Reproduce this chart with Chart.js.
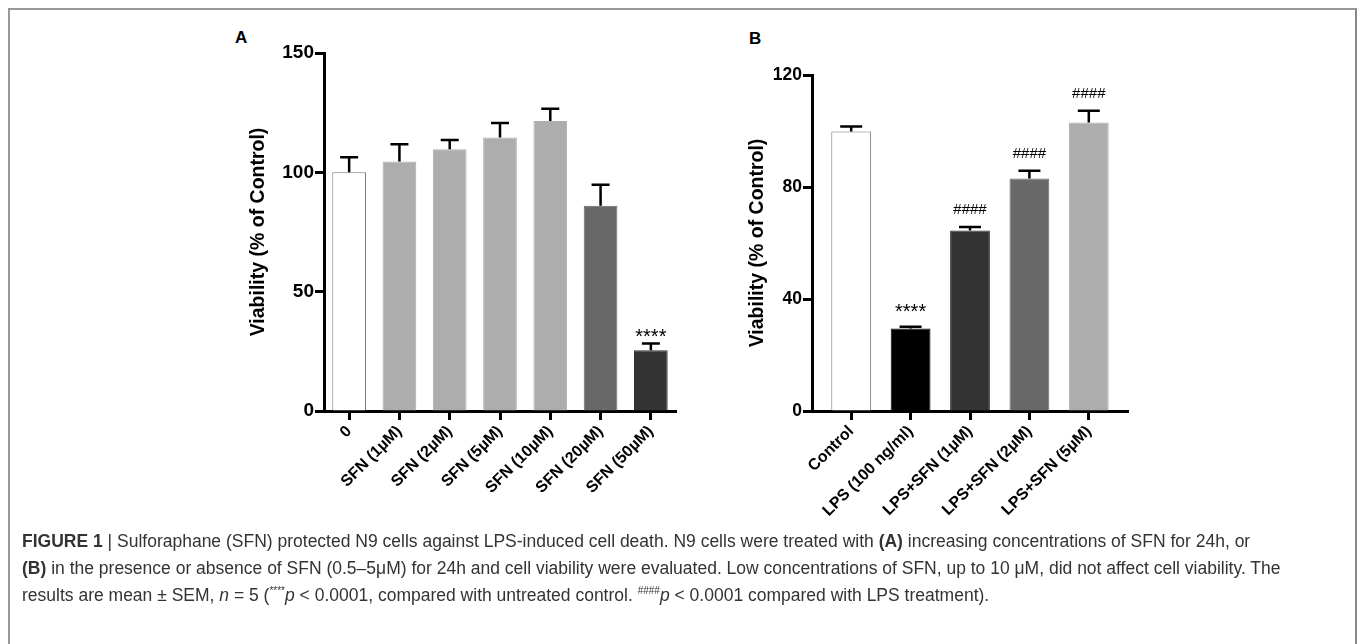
<!DOCTYPE html>
<html>
<head>
<meta charset="utf-8">
<script src="https://cdn.jsdelivr.net/npm/chart.js@4/dist/chart.umd.min.js"></script>
<style>
  body { margin: 0; background: #fff; width: 1357px; height: 644px; overflow: hidden; position: relative; font-family: "Liberation Sans", Arial, sans-serif; }
  #frame { position: absolute; left: 8px; top: 8px; width: 1345px; height: 660px; border: 2px solid #999; border-right-color: #888; }
  .panel { position: absolute; font: bold 17px "Liberation Sans", Arial, sans-serif; color: #000; }
  canvas { position: absolute; }
  #cap { position: absolute; left: 22px; top: 528px; font-size: 17.5px; line-height: 27px; color: #333; white-space: nowrap; }
  #cap sup { font-size: 10px; line-height: 0; vertical-align: 7px; }
</style>
</head>
<body>
<div id="frame"></div>
<div class="panel" style="left:235px; top:28px;">A</div>
<div class="panel" style="left:749px; top:29px;">B</div>
<canvas id="chartA" width="470" height="500" style="left:230px; top:30px; width:470px; height:500px;"></canvas>
<canvas id="chartB" width="460" height="500" style="left:700px; top:30px; width:460px; height:500px;"></canvas>
<div id="cap"><b>FIGURE 1</b> | Sulforaphane (SFN) protected N9 cells against LPS-induced cell death. N9 cells were treated with <b>(A)</b> increasing concentrations of SFN for 24h, or<br><b>(B)</b> in the presence or absence of SFN (0.5–5μM) for 24h and cell viability were evaluated. Low concentrations of SFN, up to 10 μM, did not affect cell viability. The<br>results are mean ± SEM, <i>n</i> = 5 (<sup>****</sup><i>p</i> &lt; 0.0001, compared with untreated control. <sup>####</sup><i>p</i> &lt; 0.0001 compared with LPS treatment).</div>
<script>
// panel A
const labelsA = ["0", "SFN (1µM)", "SFN (2µM)", "SFN (5µM)", "SFN (10µM)", "SFN (20µM)", "SFN (50µM)"];
const meanA = [100, 104.5, 109.7, 114.6, 121.5, 86, 25.5];
const semA = [6.3, 7.3, 3.8, 6.1, 5.1, 8.8, 2.8];
const marksA = ["", "", "", "", "", "", "****"];
const colorsA = ["#ffffff", "#adadad", "#adadad", "#adadad", "#adadad", "#686868", "#333333"];
const ticksA = [0, 50, 100, 150];

// panel B
const labelsB = ["Control", "LPS (100 ng/ml)", "LPS+SFN (1µM)", "LPS+SFN (2µM)", "LPS+SFN (5µM)"];
const meanB = [99.8, 29.5, 64.5, 83, 103];
const semB = [1.8, 0.6, 1.2, 2.8, 4.2];
const marksB = ["", "****", "####", "####", "####"];
const colorsB = ["#ffffff", "#000000", "#333333", "#686868", "#adadad"];
const ticksB = [0, 40, 80, 120];

const yTitle = "Viability (% of Control)";
const fontFam = "'Liberation Sans', Arial, sans-serif";

const errorBars = {
  id: 'errorBars',
  afterDatasetsDraw(chart, args, o) {
    const { ctx, scales: { x, y } } = chart;
    const ds = chart.data.datasets[0];
    ctx.save();
    ctx.strokeStyle = '#000';
    ctx.lineWidth = 2.5;
    ds.data.forEach((pt, i) => {
      const px = x.getPixelForValue(pt.x);
      const top = y.getPixelForValue(pt.y);
      const end = y.getPixelForValue(pt.y + o.errors[i]);
      ctx.beginPath();
      ctx.moveTo(px, top);
      ctx.lineTo(px, end);
      ctx.moveTo(px - o.cap, end);
      ctx.lineTo(px + o.cap, end);
      ctx.stroke();
      const m = o.marks[i];
      if (m) {
        ctx.fillStyle = '#000';
        ctx.textAlign = 'center';
        ctx.textBaseline = 'alphabetic';
        if (m[0] === '*') {
          // asterisks sit high in the em box
          ctx.font = '20px ' + fontFam;
          ctx.fillText(m, px, end - o.starGap + 8.5);
        } else {
          ctx.font = '15px ' + fontFam;
          ctx.fillText(m, px, end - 13);
        }
      }
    });
    ctx.restore();
  }
};

function makeChart(id, labels, means, sems, colors, marks, yTicks, cfg) {
  const step = yTicks[1] - yTicks[0];
  return new Chart(document.getElementById(id), {
    type: 'bar',
    data: {
      datasets: [{
        data: means.map((v, i) => ({ x: i, y: v })),
        backgroundColor: colors,
        borderColor: colors.map(c => c === '#ffffff' ? '#777' : c),
        borderWidth: 1,
        barPercentage: 0.67,
        categoryPercentage: 1
      }]
    },
    options: {
      responsive: false,
      animation: false,
      layout: { padding: { top: cfg.top, right: cfg.right, left: 0, bottom: 0 } },
      plugins: {
        legend: { display: false },
        tooltip: { enabled: false },
        errorBars: { errors: sems, marks: marks, cap: cfg.cap, starGap: cfg.starGap }
      },
      scales: {
        x: {
          type: 'linear',
          offset: false,
          min: -cfg.pad,
          max: labels.length - 1 + cfg.pad,
          afterBuildTicks: s => { s.ticks = labels.map((_, i) => ({ value: i })); },
          afterFit: s => { s.height = cfg.xh; },
          ticks: {
            autoSkip: false, minRotation: 45, maxRotation: 45, padding: 2,
            color: '#000', font: { family: fontFam, size: 16, weight: 'bold' },
            callback: v => labels[v]
          },
          grid: { offset: false, drawOnChartArea: false, tickLength: 9, tickWidth: 3, tickColor: '#000' },
          border: { color: '#000', width: 3 }
        },
        y: {
          min: yTicks[0],
          max: yTicks[yTicks.length - 1],
          afterFit: s => { s.width = cfg.yw; },
          ticks: {
            stepSize: step, padding: 1, color: '#000',
            font: { family: fontFam, size: cfg.tickSize, weight: 'bold' }
          },
          grid: { drawOnChartArea: false, tickLength: 9, tickWidth: 3, tickColor: '#000' },
          border: { color: '#000', width: 3 },
          title: {
            display: true, text: yTitle, color: '#000',
            font: { family: fontFam, size: 19.5, weight: 'bold' },
            padding: { top: cfg.tpad, bottom: 0 }
          }
        }
      }
    },
    plugins: [errorBars]
  });
}

makeChart('chartA', labelsA, meanA, semA, colorsA, marksA, ticksA,
  { top: 23, right: 24, xh: 119, yw: 94, pad: 0.5, cap: 9, tpad: 16.5, tickSize: 19, starGap: 9 });
makeChart('chartB', labelsB, meanB, semB, colorsB, marksB, ticksB,
  { top: 45, right: 32, xh: 119, yw: 112, pad: 0.66, cap: 11, tpad: 45.5, tickSize: 17.5, starGap: 17 });
</script>
</body>
</html>
